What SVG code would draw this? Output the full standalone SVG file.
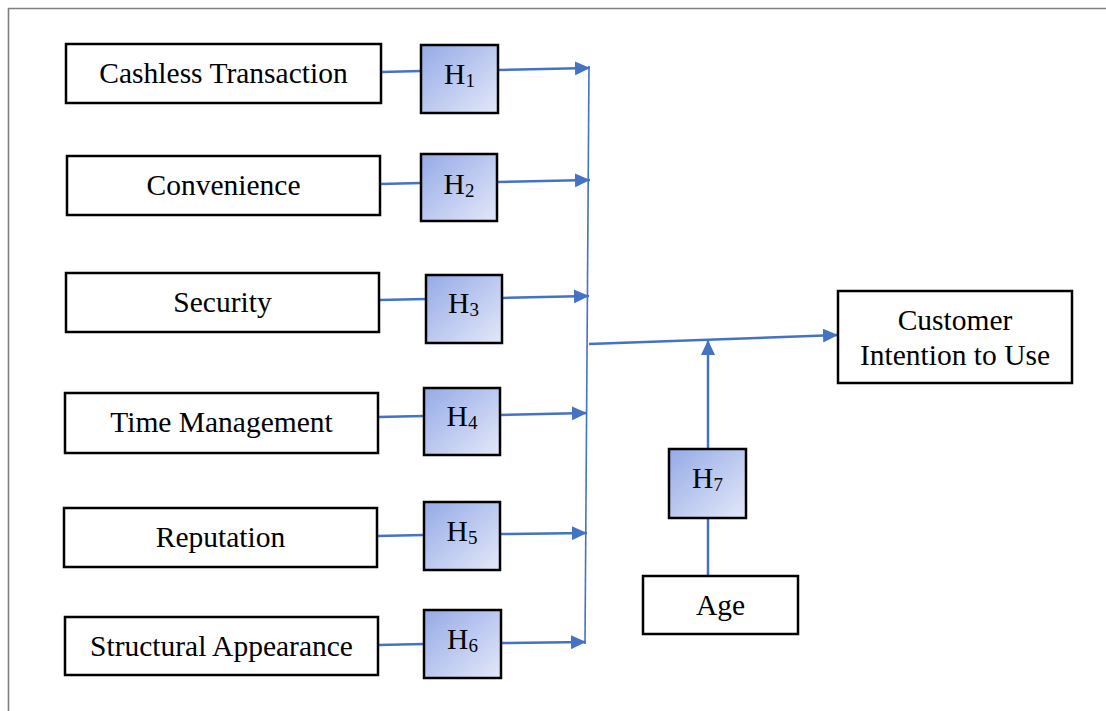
<svg xmlns="http://www.w3.org/2000/svg" width="1106" height="711" viewBox="0 0 1106 711">
  <defs>
    <linearGradient id="hFill" x1="0" y1="0" x2="1" y2="1">
      <stop offset="0" stop-color="#95aae6"/>
      <stop offset="1" stop-color="#e3e8f9"/>
    </linearGradient>
    <marker id="arrow" markerUnits="userSpaceOnUse" markerWidth="16" markerHeight="14" refX="15" refY="7" orient="auto">
      <path d="M0,0 L15,7 L0,14 Z" fill="#4472c4"/>
    </marker>
  </defs>
  <style>
    .box { fill: #ffffff; stroke: #000000; stroke-width: 2.5; }
    .hyp { fill: url(#hFill); stroke: #000000; stroke-width: 2.5; }
    .lbl { font-family: "Liberation Serif", "Times New Roman", serif; font-size: 29.5px; fill: #000000; text-anchor: middle; }
    .hl { font-family: "Liberation Serif", "Times New Roman", serif; font-size: 29.5px; fill: #000000; text-anchor: middle; }
    .sub { font-size: 19px; }
    .con { fill: none; stroke: #4472c4; stroke-width: 2.5; }
    .thin { fill: none; stroke: #4472c4; stroke-width: 1.6; }
  </style>

  <rect width="1106" height="711" fill="#ffffff"/>
  <!-- outer frame (left and top edges) -->
  <path d="M8.5,711 L8.5,8.5 L1106,8.5" fill="none" stroke="#7f7f7f" stroke-width="1.6"/>

  <!-- connectors -->
  <g id="connectors">
    <line class="con" x1="381" y1="72" x2="421" y2="71"/>
    <line class="con" x1="498" y1="70" x2="590" y2="68" marker-end="url(#arrow)"/>
    <line class="con" x1="380" y1="184" x2="421" y2="183"/>
    <line class="con" x1="497" y1="182" x2="590" y2="180" marker-end="url(#arrow)"/>
    <line class="con" x1="379" y1="300" x2="426" y2="299"/>
    <line class="con" x1="502" y1="298" x2="589" y2="296" marker-end="url(#arrow)"/>
    <line class="con" x1="378" y1="417" x2="424" y2="416"/>
    <line class="con" x1="500" y1="415" x2="587" y2="413" marker-end="url(#arrow)"/>
    <line class="con" x1="377" y1="536" x2="424" y2="535"/>
    <line class="con" x1="500" y1="534" x2="587" y2="533" marker-end="url(#arrow)"/>
    <line class="con" x1="378" y1="645" x2="424" y2="644"/>
    <line class="con" x1="501" y1="643" x2="586" y2="642" marker-end="url(#arrow)"/>
    <!-- collecting bar -->
    <line class="thin" x1="589" y1="66" x2="585" y2="644"/>
    <!-- bar to outcome -->
    <line class="con" x1="589" y1="344" x2="838" y2="335" marker-end="url(#arrow)"/>
    <!-- moderator path -->
    <line class="con" x1="708" y1="576" x2="708" y2="518"/>
    <line class="con" x1="708" y1="449" x2="708" y2="340" marker-end="url(#arrow)"/>
  </g>

  <g id="cashless">
    <rect class="box" x="66" y="44" width="315" height="59"/>
    <text class="lbl" x="223.5" y="83">Cashless Transaction</text>
  </g>
  <g id="convenience">
    <rect class="box" x="67" y="156" width="313" height="59"/>
    <text class="lbl" x="223.5" y="195">Convenience</text>
  </g>
  <g id="security">
    <rect class="box" x="66" y="273" width="313" height="59"/>
    <text class="lbl" x="222.5" y="312">Security</text>
  </g>
  <g id="time-management">
    <rect class="box" x="65" y="393" width="313" height="60"/>
    <text class="lbl" x="221.5" y="432">Time Management</text>
  </g>
  <g id="reputation">
    <rect class="box" x="64" y="508" width="313" height="59"/>
    <text class="lbl" x="220.5" y="547">Reputation</text>
  </g>
  <g id="structural-appearance">
    <rect class="box" x="65" y="617" width="313" height="58"/>
    <text class="lbl" x="221.5" y="656">Structural Appearance</text>
  </g>

  <g id="h1">
    <rect class="hyp" x="421" y="45" width="77" height="68"/>
    <text class="hl" x="459.5" y="84">H<tspan class="sub" dy="3">1</tspan></text>
  </g>
  <g id="h2">
    <rect class="hyp" x="421" y="154" width="76" height="67"/>
    <text class="hl" x="459" y="194">H<tspan class="sub" dy="3">2</tspan></text>
  </g>
  <g id="h3">
    <rect class="hyp" x="426" y="275" width="76" height="68"/>
    <text class="hl" x="463.5" y="313">H<tspan class="sub" dy="3">3</tspan></text>
  </g>
  <g id="h4">
    <rect class="hyp" x="424" y="388" width="76" height="67"/>
    <text class="hl" x="462" y="426">H<tspan class="sub" dy="3">4</tspan></text>
  </g>
  <g id="h5">
    <rect class="hyp" x="424" y="502" width="76" height="68"/>
    <text class="hl" x="462" y="541">H<tspan class="sub" dy="3">5</tspan></text>
  </g>
  <g id="h6">
    <rect class="hyp" x="424" y="610" width="77" height="68"/>
    <text class="hl" x="462.5" y="649">H<tspan class="sub" dy="3">6</tspan></text>
  </g>
  <g id="h7">
    <rect class="hyp" x="669" y="449" width="77" height="69"/>
    <text class="hl" x="707.5" y="488">H<tspan class="sub" dy="3">7</tspan></text>
  </g>

  <g id="age">
    <rect class="box" x="643" y="576" width="155" height="58"/>
    <text class="lbl" x="720.5" y="615">Age</text>
  </g>
  <g id="customer-intention">
    <rect class="box" x="838" y="291" width="234" height="92"/>
    <text class="lbl" x="955" y="330">Customer</text>
    <text class="lbl" x="955" y="365">Intention to Use</text>
  </g>
</svg>
